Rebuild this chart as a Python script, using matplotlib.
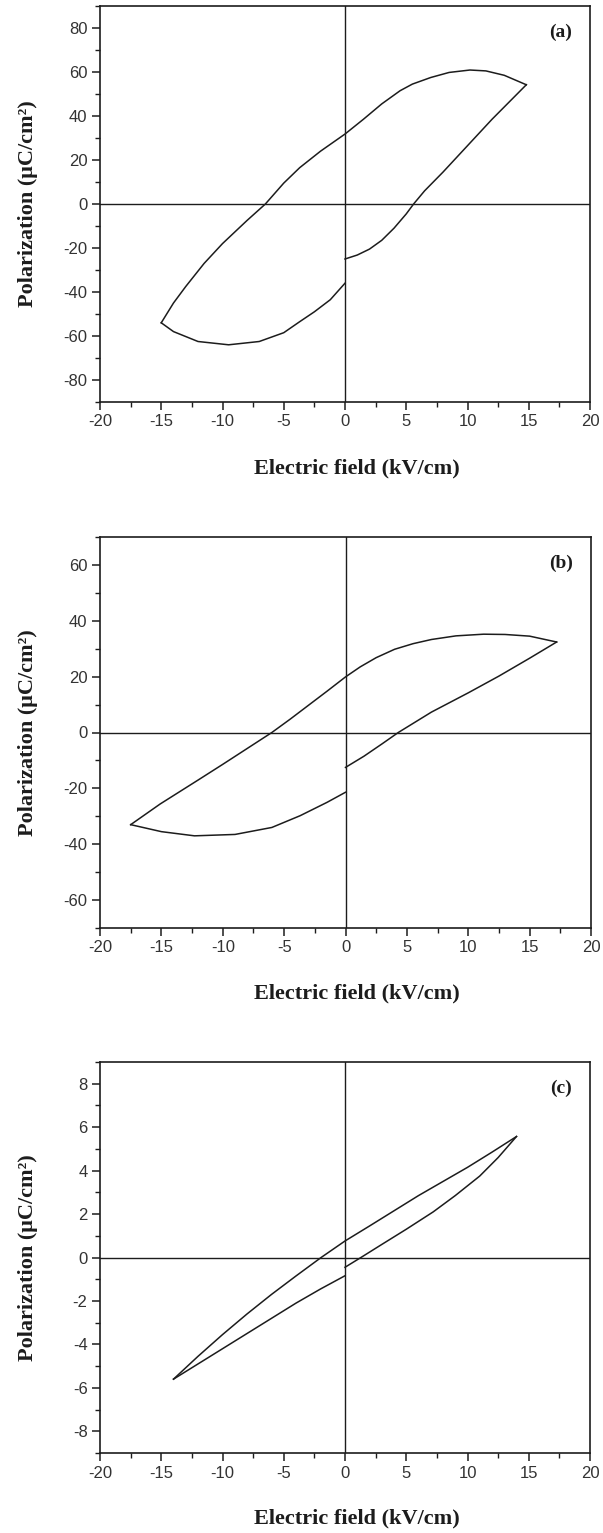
import numpy as np
import matplotlib.pyplot as plt
from matplotlib.ticker import MultipleLocator, FuncFormatter

plt.rcParams['axes.unicode_minus'] = False

# hysteresis loops, read as (E, P) pairs for each branch
# (a)
a_upper_E = [14.8, 13.0, 11.5, 10.2, 8.5, 7.0, 5.5, 4.5, 3.0, 1.5, 0.0, -2.0, -3.7, -5.0, -6.5, -8.0, -10.0, -11.5, -13.0, -14.0, -15.0]
a_upper_P = [54.2, 58.5, 60.5, 60.9, 59.8, 57.5, 54.5, 51.5, 45.5, 38.5, 31.8, 24.0, 16.5, 9.5, 0.0, -7.5, -18.0, -27.0, -37.5, -45.0, -54.0]
a_lower_E = [-15.0, -14.0, -12.0, -9.5, -7.0, -5.0, -3.7, -2.5, -1.2, 0.0]
a_lower_P = [-54.0, -58.0, -62.5, -64.0, -62.5, -58.5, -53.5, -49.0, -43.5, -36.0]
a_rise_E = [0.0, 1.0, 2.0, 3.0, 4.0, 5.0, 5.6, 6.5, 8.0, 10.0, 12.0, 14.8]
a_rise_P = [-25.0, -23.2, -20.5, -16.5, -11.0, -4.5, 0.0, 6.0, 14.5, 26.5, 38.5, 54.2]

# (b)
b_upper_E = [17.2, 15.0, 13.0, 11.25, 9.0, 7.0, 5.5, 4.0, 2.5, 1.2, 0.0, -1.5, -3.0, -4.5, -6.0, -8.0, -10.0, -12.0, -15.1, -17.5]
b_upper_P = [32.4, 34.5, 35.1, 35.2, 34.6, 33.3, 31.8, 29.8, 26.8, 23.5, 19.9, 14.8, 9.8, 4.8, 0.0, -5.7, -11.4, -17.0, -25.6, -33.0]
b_lower_E = [-17.5, -15.0, -12.3, -9.0, -6.0, -3.7, -1.5, 0.0]
b_lower_P = [-33.0, -35.5, -37.0, -36.5, -34.0, -29.8, -25.0, -21.4]
b_rise_E = [0.0, 1.5, 3.0, 4.3, 7.0, 10.0, 12.5, 15.0, 17.2]
b_rise_P = [-12.5, -8.5, -4.0, 0.0, 7.3, 14.2, 20.2, 26.6, 32.4]

# (c)
c_upper_E = [14.0, 12.0, 10.0, 8.0, 6.0, 4.0, 2.0, 0.0, -1.95, -4.0, -6.0, -8.0, -10.0, -12.0, -14.0]
c_upper_P = [5.57, 4.85, 4.15, 3.5, 2.85, 2.15, 1.45, 0.76, 0.0, -0.85, -1.7, -2.6, -3.55, -4.55, -5.6]
c_lower_E = [-14.0, -12.0, -10.0, -8.0, -6.0, -4.0, -2.0, 0.0]
c_lower_P = [-5.6, -4.9, -4.2, -3.5, -2.8, -2.1, -1.45, -0.84]
c_rise_E = [0.0, 1.3, 3.0, 5.0, 7.2, 9.0, 11.0, 12.5, 14.0]
c_rise_P = [-0.45, 0.0, 0.6, 1.3, 2.1, 2.85, 3.75, 4.6, 5.57]

panels = [
    ('(a)', 90, 20, 10, [(a_upper_E, a_upper_P), (a_lower_E, a_lower_P), (a_rise_E, a_rise_P)]),
    ('(b)', 70, 20, 10, [(b_upper_E, b_upper_P), (b_lower_E, b_lower_P), (b_rise_E, b_rise_P)]),
    ('(c)', 9, 2, 1, [(c_upper_E, c_upper_P), (c_lower_E, c_lower_P), (c_rise_E, c_rise_P)]),
]

W, H = 603, 1533
fig = plt.figure(figsize=(W / 100, H / 100), dpi=100)

# pixel boxes: left, top, right, bottom
boxes = [(100, 6, 590, 402), (100, 537, 591, 928), (100, 1062, 590, 1453)]
xlabel_y = [468, 993, 1518]

ink = '#1c1c1c'
serif = 'Liberation Serif'
sans = 'Liberation Sans'

for (tag, ylim, ymaj, ymin, branches), (l, t, r, b), xly in zip(panels, boxes, xlabel_y):
    ax = fig.add_axes([l / W, 1 - b / H, (r - l) / W, (b - t) / H])
    for E, P in branches:
        ax.plot(E, P, color=ink, lw=1.1)
    ax.axhline(0, color=ink, lw=1.0)
    ax.axvline(0, color=ink, lw=1.0)

    ax.set_xlim(-20, 20)
    ax.set_ylim(-ylim, ylim)
    ax.xaxis.set_major_locator(MultipleLocator(5))
    ax.xaxis.set_minor_locator(MultipleLocator(2.5))
    ax.yaxis.set_major_locator(MultipleLocator(ymaj))
    ax.yaxis.set_minor_locator(MultipleLocator(ymin))
    ax.xaxis.set_major_formatter(FuncFormatter(lambda v, p: '%d' % round(v)))
    ax.yaxis.set_major_formatter(FuncFormatter(lambda v, p: '%d' % round(v)))
    ax.tick_params(which='major', direction='out', length=6, width=1.1, color=ink,
                   labelsize=12, labelcolor='#333333', pad=3)
    ax.tick_params(which='minor', direction='out', length=3.5, width=1.0, color=ink)
    for lab in ax.get_xticklabels() + ax.get_yticklabels():
        lab.set_family(sans)
    for s in ax.spines.values():
        s.set_linewidth(1.2)
        s.set_color(ink)

    ax.text(0.94, 0.955, tag, transform=ax.transAxes, ha='center', va='top',
            fontsize=14, fontweight='bold', family=serif, color=ink)

    fig.text(357 / W, 1 - xly / H, 'Electric field (kV/cm)', ha='center', va='center',
             fontsize=16, fontweight='bold', family=serif, color=ink)
    fig.text(28 / W, 1 - (t + b) / 2 / H, 'Polarization (μC/cm²)',
             ha='center', va='center', rotation=90,
             fontsize=16, fontweight='bold', family=serif, color=ink)

fig.savefig('out.png', dpi=100)
